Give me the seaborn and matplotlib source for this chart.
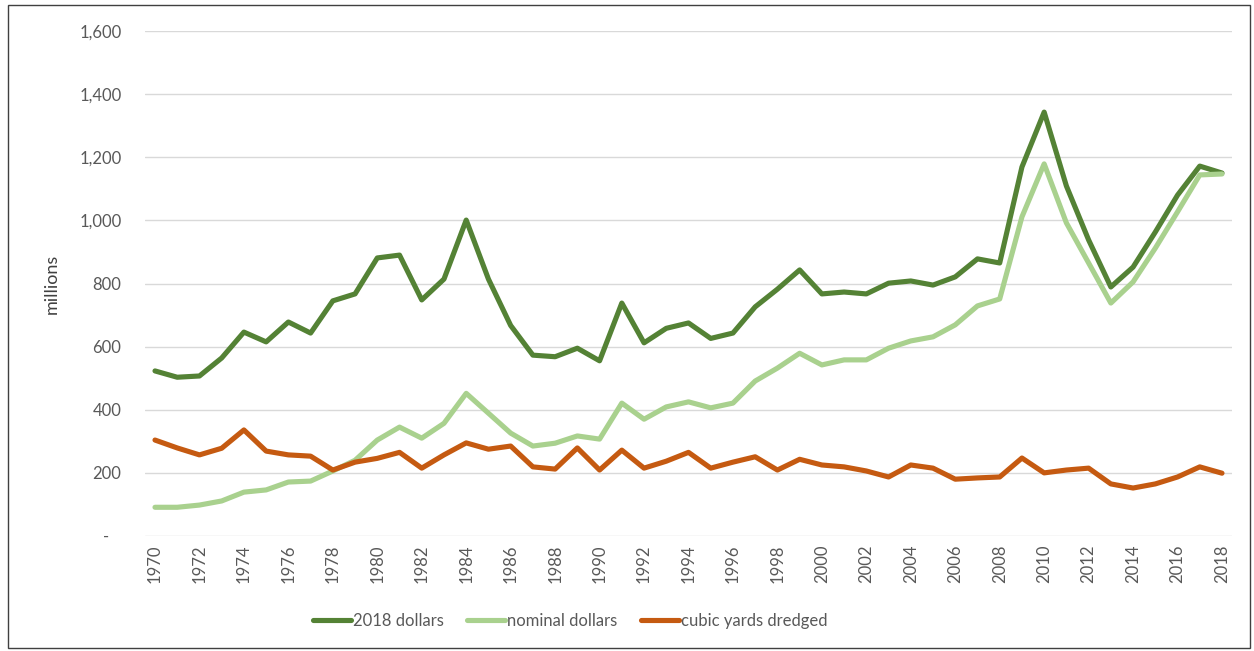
# Dredging cost vs volume, 1970-2018, as a seaborn line chart

import pandas as pd
import seaborn as sns
import matplotlib.pyplot as plt
from matplotlib.patches import Rectangle
from matplotlib.ticker import FuncFormatter


years = list(range(1970, 2019))

real_2018 = [523, 503, 507, 564, 646, 615, 678, 643, 745, 767,
             881, 890, 748, 814, 1001, 814, 667, 573, 568, 595,
             555, 738, 612, 658, 675, 626, 643, 726, 782, 843,
             767, 773, 767, 801, 808, 795, 821, 878, 865, 1169,
             1343, 1109, 938, 789, 852, 963, 1080, 1172, 1150]

nominal = [91, 91, 98, 111, 139, 146, 171, 174, 206, 240,
           304, 345, 310, 357, 452, 389, 326, 285, 294, 317,
           307, 421, 370, 409, 425, 406, 421, 491, 532, 579,
           542, 558, 558, 595, 618, 631, 669, 729, 751, 1011,
           1179, 992, 865, 738, 805, 912, 1027, 1144, 1147]

cubic_yards = [304, 279, 257, 278, 336, 269, 257, 253, 209, 234,
               246, 265, 215, 257, 295, 275, 285, 219, 212, 279,
               209, 272, 215, 237, 265, 215, 234, 251, 209, 243,
               225, 219, 206, 187, 225, 215, 180, 184, 187, 247,
               200, 209, 215, 165, 152, 165, 187, 219, 199]

series_names = ["2018 dollars", "nominal dollars", "cubic yards dredged"]
colors = ["#548235", "#A9D18E", "#C55A11"]


# long-form table for seaborn
frames = []
for name, vals in zip(series_names, [real_2018, nominal, cubic_yards]):
    frames.append(pd.DataFrame({"year": years, "value": vals, "series": name}))
df = pd.concat(frames, ignore_index=True)

sns.set_theme(style="white")
plt.rcParams['font.family'] = ['Lato', 'DejaVu Sans']

fig = plt.figure(figsize=(12.54, 6.51), dpi=100)
ax = fig.add_axes([145 / 1254, 115 / 651, 1087 / 1254, 505 / 651])

sns.lineplot(data=df, x="year", y="value", hue="series", hue_order=series_names,
             palette=colors, linewidth=3.7, ax=ax)

ax.set_xlim(1969.55, 2018.45)
ax.set_ylim(0, 1600)
ax.set_yticks(range(0, 1601, 200))
ax.yaxis.set_major_formatter(FuncFormatter(lambda v, p: "-   " if v == 0 else f"{v:,.0f}"))
ax.set_xticks(range(1970, 2019, 2))
ax.set_xticklabels([str(y) for y in range(1970, 2019, 2)], rotation=90)
ax.tick_params(axis="both", length=0, labelsize=12, labelcolor="#595959")
ax.tick_params(axis="y", pad=17)
ax.tick_params(axis="x", pad=6)
ax.grid(axis="y", color="#D9D9D9", linewidth=1)
ax.set_axisbelow(True)
for s in ax.spines.values():
    s.set_visible(False)

ax.set_xlabel("")
ax.set_ylabel("millions", fontsize=13, color="#404040", labelpad=14)

sns.move_legend(ax, "center", bbox_to_anchor=(0.391, -0.168), ncol=3, frameon=False,
                title=None, fontsize=12, handlelength=2.3, handletextpad=0.1,
                columnspacing=1.4)
for t in ax.get_legend().get_texts():
    t.set_color("#595959")

# thin frame round the whole picture
fig.patches.append(Rectangle((8 / 1254, 3 / 651), 1242 / 1254, 643 / 651,
                             transform=fig.transFigure, fill=False,
                             edgecolor="#404040", linewidth=1))

fig.savefig("out.png", dpi=100)
plt.close(fig)
